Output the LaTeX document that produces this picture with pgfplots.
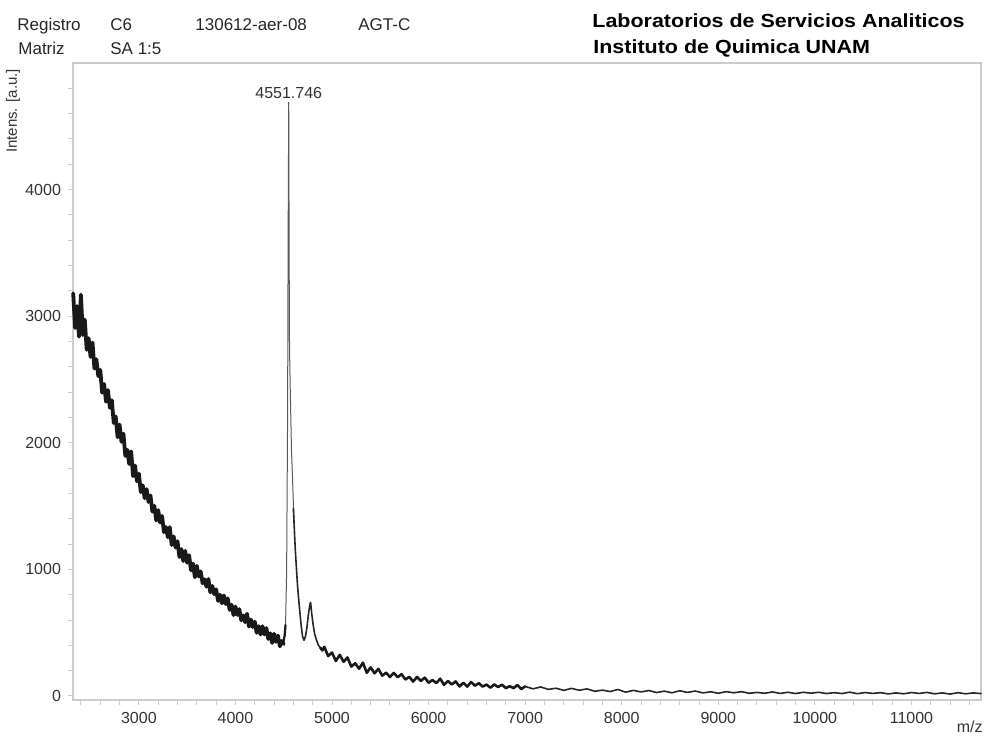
\documentclass[border=0pt]{standalone}
\usepackage{fontspec}
\setmainfont{Liberation Sans}
\usepackage{graphicx}
\usepackage{pgfplots}
\pgfplotsset{compat=1.18}
\definecolor{axgray}{gray}{0.8}
\definecolor{lblgray}{gray}{0.2}
\begin{document}
\begin{tikzpicture}
\useasboundingbox (0,0) rectangle (492.5pt,368pt);
\begin{axis}[
  at={(36.5pt,18pt)}, anchor=south west,
  width=454pt, height=318.5pt, scale only axis,
  xmin=2318, xmax=11720, ymin=-32, ymax=5000,
  axis line style={axgray, line width=0.6pt},
  xtick={3000,4000,...,11000},
  ytick={0,1000,...,4000},
  minor xtick={2400,2600,...,11600},
  minor ytick={200,400,...,4800},
  tick align=outside, tick pos=left,
  major tick length=2.5pt, minor tick length=2.5pt,
  tick style={axgray, line width=0.5pt},
  ticklabel style={font=\fontsize{8}{9}\selectfont, text=lblgray},
  /pgf/number format/assume math mode=true,
  /pgf/number format/set thousands separator={},
  scaled ticks=false,
  clip=false,
]
% noisy baseline, low m/z side
\addplot[black!90, line width=1.9pt, line join=round, line cap=round] coordinates {
(2320,3180)(2340,2906)(2360,3080)(2380,2838)(2400,3170)(2420,2852)(2440,2973)(2460,2734)(2480,2826)(2500,2678)
(2520,2792)(2540,2586)(2560,2660)(2580,2526)(2600,2576)(2620,2396)(2640,2464)(2660,2324)(2680,2416)(2700,2276)
(2720,2336)(2740,2156)(2760,2208)(2780,2044)(2800,2144)(2820,2008)(2840,2072)(2860,1896)(2880,1944)(2900,1832)
(2920,1932)(2940,1736)(2960,1820)(2980,1696)(3000,1756)
(3020,1610)(3040,1664)(3060,1562)(3080,1634)(3100,1532)(3120,1584)(3140,1456)(3160,1502)(3180,1386)(3200,1468)
(3220,1370)(3240,1422)(3260,1294)(3280,1334)(3300,1254)(3320,1334)(3340,1192)(3360,1260)(3380,1172)(3400,1222)
(3420,1098)(3440,1160)(3460,1066)(3480,1146)(3500,1052)(3520,1112)(3540,992)(3560,1046)(3580,938)(3600,1028)
(3620,944)(3640,984)(3660,890)(3680,922)(3700,863)(3720,924)(3740,818)(3760,869)(3780,804)(3800,842)
(3820,751)(3840,800)(3860,732)(3880,794)(3900,726)(3920,771)(3940,680)(3960,720)(3980,639)(4000,706)
(4020,640)(4040,686)(4060,598)(4080,636)(4100,583)(4120,649)(4140,548)(4160,604)(4180,544)(4200,587)
(4220,499)(4240,551)(4260,486)(4280,551)(4300,486)(4320,536)(4340,450)(4360,495)(4380,419)(4400,491)
(4420,428)(4440,477)(4460,392)(4480,434)(4500,410)
};
% main peak (thin upper part)
\addplot[black!65, line width=0.5pt] coordinates {
(4515,520)(4520,600)(4530,980)(4540,2200)(4546,3700)(4551.746,4690)
(4556,3500)(4560,2750)(4568,2400)(4580,1950)(4592,1700)(4605,1400)
};
% peak foot, left
\addplot[black!90, line width=1.1pt, line join=round, line cap=round] coordinates {
(4490,420)(4500,440)(4510,480)(4518,560)}
;
% peak descent, valley and satellite peak
\addplot[black!85, line width=0.8pt, line join=round, line cap=round] coordinates {
(4600,1480)(4605,1400)(4620,1150)(4643,870)
(4660,720)(4680,560)(4695,470)(4710,440)(4725,470)(4740,540)(4755,640)(4770,720)(4778,740)
(4790,650)(4805,560)(4820,490)(4840,440)(4860,400)(4880,380)(4900,360)
};
% noisy baseline, high m/z side
\addplot[black!90, line width=1.3pt, line join=round, line cap=round] coordinates {
(4880,380)(4900,360)(4920,388)(4960,315)(5000,343)(5040,276)(5080,325)(5120,270)(5160,304)(5200,232)(5240,258)
(5280,215)(5320,263)(5360,183)(5400,226)(5440,179)(5480,214)(5520,160)(5560,184)(5600,150)(5640,182)
(5680,148)(5720,172)(5760,130)(5800,151)(5840,114)(5880,150)(5920,119)(5960,145)(6000,104)(6040,126)
(6080,102)(6120,136)(6160,88)(6200,118)(6240,91)(6280,115)(6320,75)(6360,104)(6400,74)(6440,110)
(6480,81)(6520,101)(6560,74)(6600,90)(6640,65)(6680,91)(6720,71)(6760,89)(6800,62)(6840,77)
(6880,62)(6920,86)(6960,55)(7000,76)
};
\addplot[black!85, line width=0.8pt, line join=round, line cap=round] coordinates {
(7000,76)(7080,56)(7160,71)(7240,52)(7320,61)(7400,44)(7480,60)(7560,45)(7640,56)(7720,37)(7800,46)
(7880,35)(7960,51)(8040,30)(8120,44)(8200,32)(8280,43)(8360,27)(8440,38)(8520,25)(8600,41)
(8680,28)(8760,39)(8840,24)(8920,33)(9000,21)(9080,34)(9160,25)(9240,34)(9320,21)(9400,28)
(9480,21)(9560,32)(9640,20)(9720,29)(9800,19)(9880,29)(9960,22)(10040,29)(10120,19)(10200,26)
(10280,19)(10360,30)(10440,18)(10520,27)(10600,20)(10680,26)(10760,16)(10840,24)(10920,17)(11000,27)
(11080,20)(11160,28)(11240,17)(11320,24)(11400,15)(11480,26)(11560,17)(11640,24)(11720,19)
};
\node[anchor=south, inner sep=1.5pt, font=\fontsize{8}{9}\selectfont, text=lblgray]
  at (axis cs:4551.746,4690) {4551.746};
\end{axis}
% header
\begin{scope}[every node/.style={inner sep=0pt, font=\fontsize{8.5}{10}\selectfont, text=black!85}]
\node[anchor=base west] at (8.5pt,353pt) {Registro};
\node[anchor=base west] at (55pt,353pt) {C6};
\node[anchor=base west] at (97.5pt,353pt) {130612-aer-08};
\node[anchor=base west] at (179pt,353pt) {AGT-C};
\node[anchor=base west] at (9pt,341pt) {Matriz};
\node[anchor=base west] at (55pt,341pt) {SA 1:5};
\end{scope}
\node[anchor=base west, inner sep=0pt, font=\fontsize{9.5}{11}\selectfont\bfseries]
  at (296pt,354.5pt) {\scalebox{1.13}[1]{Laboratorios de Servicios Analiticos}};
\node[anchor=base west, inner sep=0pt, font=\fontsize{9.5}{11}\selectfont\bfseries]
  at (296.5pt,341.5pt) {\scalebox{1.13}[1]{Instituto de Quimica UNAM}};
\node[rotate=90, inner sep=0pt, font=\fontsize{7.5}{9}\selectfont, text=lblgray]
  at (6.5pt,312.5pt) {Intens. [a.u.]};
\node[anchor=base east, inner sep=0pt, font=\fontsize{8}{9}\selectfont, text=lblgray]
  at (491.5pt,2pt) {m/z};
\end{tikzpicture}
\end{document}
